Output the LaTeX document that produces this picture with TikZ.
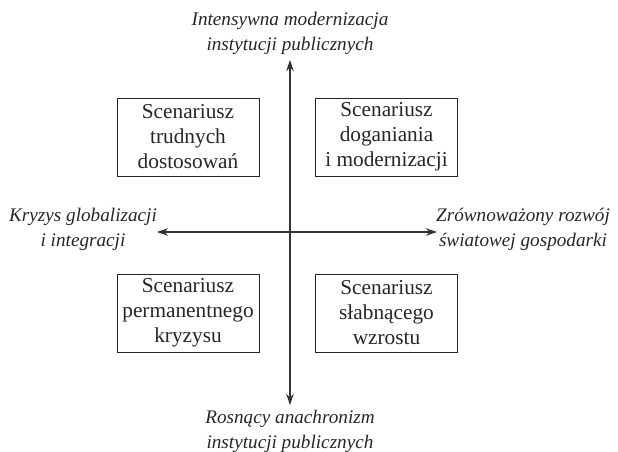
\documentclass[tikz,border=0pt]{standalone}
\usepackage{fontspec}
\setmainfont{Liberation Serif}
\usetikzlibrary{arrows.meta}
\tikzset{
  scenbox/.style={draw=black!85, line width=0.9pt, minimum width=142pt, minimum height=78pt, inner sep=0pt, align=center, text=black!85, font=\fontsize{21.3}{25}\selectfont},
  axislabel/.style={inner sep=0pt, align=center, text=black!85, font=\fontsize{19.2}{25}\selectfont\itshape},
  axisline/.style={draw=black!80, line width=1.1pt, {Stealth[length=11pt,width=7.5pt]}-{Stealth[length=11pt,width=7.5pt]}}
}
\begin{document}
\begin{tikzpicture}[x=1pt,y=-1pt]
\useasboundingbox (0,0) rectangle (618,451);
\coordinate (top) at (290,60);
\coordinate (bot) at (290,405);
\coordinate (lft) at (157,232);
\coordinate (rgt) at (437,232);
\draw[axisline] (bot) -- (top);
\draw[axisline] (lft) -- (rgt);
\node[scenbox] (tl) at (188,137) {Scenariusz\\trudnych\\dostosowań};
\node[scenbox] (tr) at (386.5,137) {Scenariusz\\doganiania\\i modernizacji};
\node[scenbox] (bl) at (188,313) {Scenariusz\\permanentnego\\kryzysu};
\node[scenbox] (br) at (386.5,313) {Scenariusz\\słabnącego\\wzrostu};
\node[axislabel] (ltop) at (290,33) {Intensywna modernizacja\\instytucji publicznych};
\node[axislabel] (lbot) at (290,431) {Rosnący anachronizm\\instytucji publicznych};
\node[axislabel] (llft) at (83,229) {Kryzys globalizacji\\i integracji};
\node[axislabel] (lrgt) at (523,229) {Zrównoważony rozwój\\światowej gospodarki};
\end{tikzpicture}
\end{document}
